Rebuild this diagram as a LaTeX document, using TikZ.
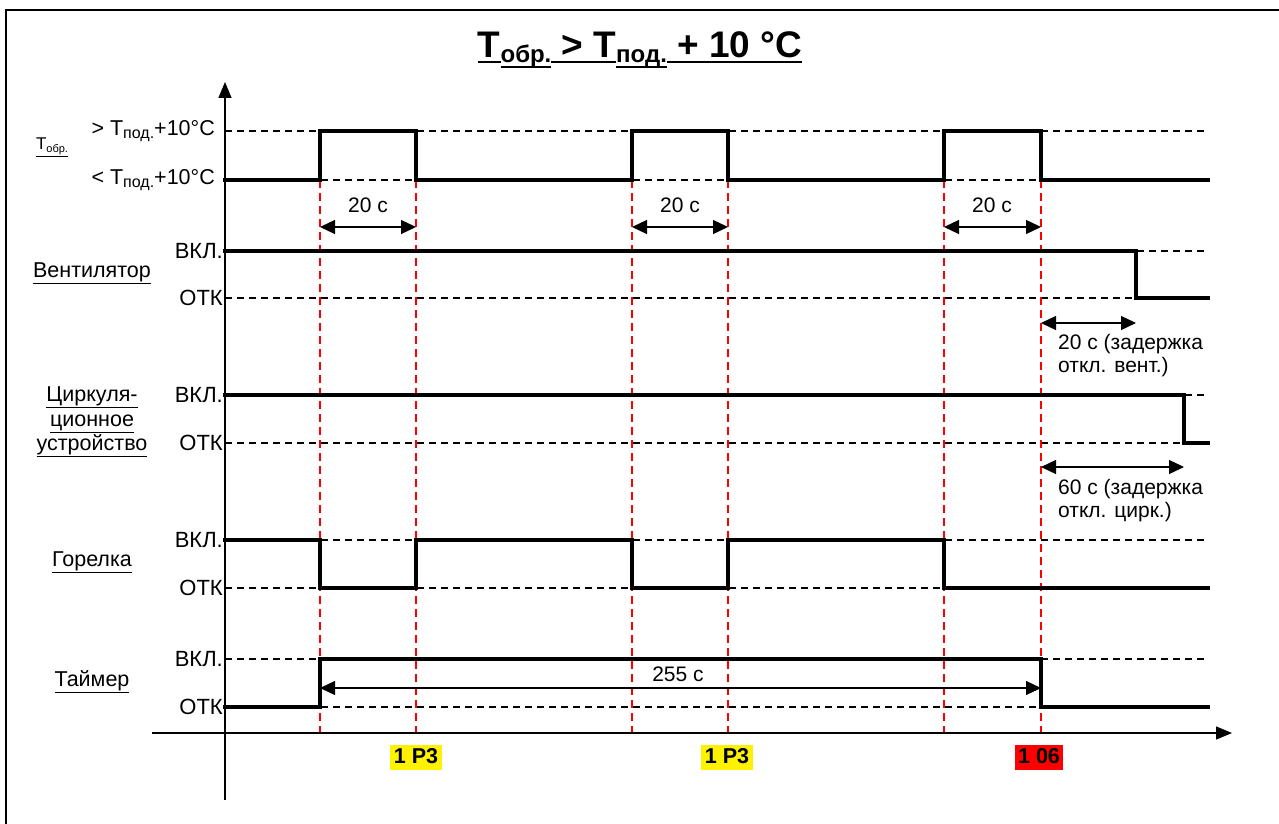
\documentclass[tikz,border=0pt]{standalone}
\usepackage{fontspec}
\setmainfont{Liberation Sans}
\usetikzlibrary{arrows.meta}
\newcommand\ulpiece[1]{\setbox0\hbox{#1}\rlap{\rule[-5.3pt]{\wd0}{2.6pt}}\box0}
\begin{document}
\begin{tikzpicture}[x=1pt,y=-1pt,
  sig/.style={line width=3.8pt, line join=miter, line cap=rect},
  refline/.style={line width=1.4pt, dash pattern=on 7pt off 5pt},
  marker/.style={draw=red, line width=1.3pt, dash pattern=on 8pt off 5pt},
  dim/.style={line width=1.3pt, {Triangle[length=15pt,width=14pt]}-{Triangle[length=15pt,width=14pt]}},
  axis/.style={line width=1.4pt, -{Triangle[length=16pt,width=13pt]}},
  lvl/.style={anchor=east, font=\fontsize{22}{22}\selectfont, inner sep=0pt},
  tlvl/.style={anchor=east, font=\fontsize{21.5}{21.5}\selectfont, inner sep=0pt},
  chname/.style={align=center, font=\fontsize{21.5}{24.5}\selectfont, inner sep=0pt},
  dimlbl/.style={font=\fontsize{21}{23}\selectfont, inner sep=0pt},
  code/.style={font=\bfseries\fontsize{21.5}{21.5}\selectfont, inner xsep=3.5pt, inner ysep=3pt, text height=16pt, text depth=3pt}
]
\useasboundingbox (0,0) rectangle (1279,824);
% frame
\draw[line width=2.4pt] (6,824) -- (6,10) -- (1279,10);
% title
\node[anchor=base, inner sep=0pt, font=\bfseries\fontsize{37}{37}\selectfont] (title) at (640,58)
  {\ulpiece{T}\raisebox{-5pt}{\fontsize{24}{24}\selectfont\ulpiece{обр.}}\ulpiece{ > T}\raisebox{-5pt}{\fontsize{24}{24}\selectfont\ulpiece{под.}}\ulpiece{ + 10 °C}};
% reference dashed levels
\foreach \y in {131,180,251,298,395,443,540,588,659,707}
  \draw[refline] (225,\y) -- (1208,\y);
% red markers
\foreach \x in {320,416,632,728,944,1041}
  \draw[marker] (\x,180) -- (\x,733);
% axes
\coordinate (yb) at (225,800);
\coordinate (yt) at (225,82);
\coordinate (xl) at (152,733);
\coordinate (xr) at (1232,733);
\draw[axis] (yb) -- (yt);
\draw[axis] (xl) -- (xr);
% signals
\draw[sig] (225,180) -- (320,180) -- (320,131) -- (416,131) -- (416,180) -- (632,180) -- (632,131) -- (728,131) -- (728,180) -- (944,180) -- (944,131) -- (1041,131) -- (1041,180) -- (1208,180);
\draw[sig] (225,251) -- (1136,251) -- (1136,298) -- (1208,298);
\draw[sig] (225,395) -- (1184,395) -- (1184,443) -- (1208,443);
\draw[sig] (225,540) -- (320,540) -- (320,588) -- (416,588) -- (416,540) -- (632,540) -- (632,588) -- (728,588) -- (728,540) -- (944,540) -- (944,588) -- (1208,588);
\draw[sig] (225,707) -- (320,707) -- (320,659) -- (1041,659) -- (1041,707) -- (1208,707);
% level labels
\node[tlvl] (th) at (215,131) {> T\raisebox{-3.5pt}{\fontsize{16}{16}\selectfont под.}+10°C};
\node[tlvl] (tl) at (215,180) {< T\raisebox{-3.5pt}{\fontsize{16}{16}\selectfont под.}+10°C};
\foreach \y/\n in {251/v, 395/c, 540/g, 659/t}
  \node[lvl] (on\n) at (223,\y) {ВКЛ.};
\foreach \y/\n in {298/v, 443/c, 588/g, 707/t}
  \node[lvl] (off\n) at (223,\y) {ОТК};
% channel names
\node[inner sep=0pt, font=\fontsize{17}{17}\selectfont] (tobr) at (52,147) {\underline{T\raisebox{-3pt}{\fontsize{11}{11}\selectfont обр.}}};
\node[chname] (vent) at (92,273) {\underline{Вентилятор}};
\node[chname] (circ) at (92,422) {\underline{Циркуля-}\\\underline{ционное}\\\underline{устройство}};
\node[chname] (gor) at (92,562) {\underline{Горелка}};
\node[chname] (taim) at (92,682) {\underline{Таймер}};
% 20 s dimensions
\coordinate (d1a) at (320,227); \coordinate (d1b) at (416,227);
\coordinate (d2a) at (632,227); \coordinate (d2b) at (728,227);
\coordinate (d3a) at (944,227); \coordinate (d3b) at (1041,227);
\draw[dim] (d1a) -- (d1b);
\draw[dim] (d2a) -- (d2b);
\draw[dim] (d3a) -- (d3b);
\node[dimlbl] (l1) at (368,205) {20 с};
\node[dimlbl] (l2) at (680,205) {20 с};
\node[dimlbl] (l3) at (992,205) {20 с};
% delays
\coordinate (dva) at (1041,323); \coordinate (dvb) at (1136,323);
\draw[dim] (dva) -- (dvb);
\node[dimlbl, anchor=north west, align=left] (lv) at (1058,334) {20 с (задержка\\откл. вент.)};
\coordinate (dca) at (1041,467); \coordinate (dcb) at (1184,467);
\draw[dim] (dca) -- (dcb);
\node[dimlbl, anchor=north west, align=left] (lc) at (1058,479) {60 с (задержка\\откл. цирк.)};
% timer
\coordinate (dta) at (320,688); \coordinate (dtb) at (1041,688);
\draw[dim] (dta) -- (dtb);
\node[dimlbl] (lt) at (678,674) {255 с};
% codes
\node[code, fill=yellow] (c1) at (416,757) {1 P3};
\node[code, fill=yellow] (c2) at (727,757) {1 P3};
\node[code, fill=red] (c3) at (1039,757) {1 06};
\end{tikzpicture}
\end{document}
